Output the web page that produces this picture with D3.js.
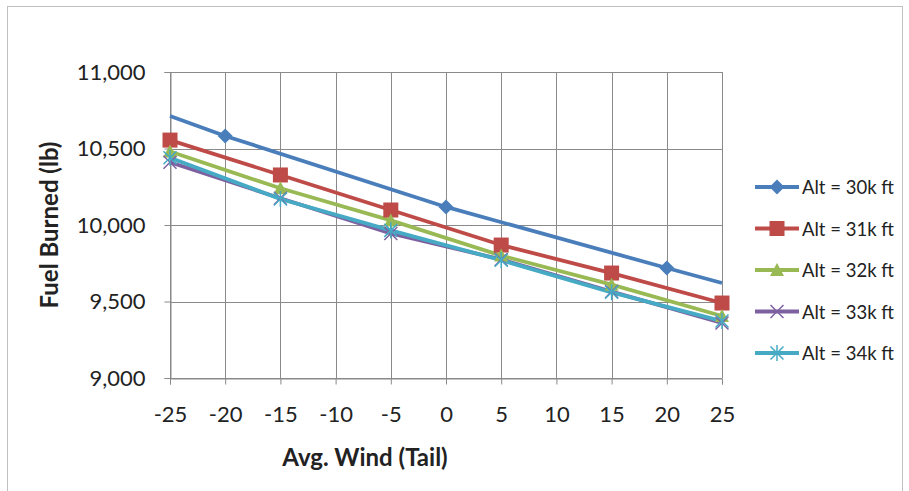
<!DOCTYPE html>
<html>
<head>
<meta charset="utf-8">
<script src="https://cdn.jsdelivr.net/npm/d3@7"></script>
<style>
  html, body { margin: 0; padding: 0; background: #fff; }
  svg { display: block; }
  text { font-family: Lato, "Open Sans", sans-serif; fill: #222; }
</style>
</head>
<body>
<script>
// Wind values on the x axis and fuel burned per altitude
const windTicks = [-25, -20, -15, -10, -5, 0, 5, 10, 15, 20, 25];
const fuelTicks = [9000, 9500, 10000, 10500, 11000];

const alt30Wind = [-25, -20, 0, 20, 25];
const alt30Fuel = [10712, 10582, 10118, 9719, 9621];
const alt30MarkerWind = [-20, 0, 20];

const lowerWind = [-25, -15, -5, 5, 15, 25];
const alt31Fuel = [10555, 10327, 10098, 9869, 9686, 9490];
const alt32Fuel = [10480, 10240, 10030, 9800, 9610, 9405];
const alt33Fuel = [10410, 10175, 9945, 9775, 9565, 9360];
const alt34Fuel = [10440, 10170, 9965, 9770, 9560, 9372];

const seriesNames = ["Alt = 30k ft", "Alt = 31k ft", "Alt = 32k ft", "Alt = 33k ft", "Alt = 34k ft"];
const seriesColors = ["#4a7ebb", "#be4b48", "#98b954", "#7d60a0", "#46aac5"];
const seriesSymbols = ["diamond", "square", "triangle", "x", "asterisk"];

const series = [
  { wind: alt30Wind, fuel: alt30Fuel, markers: alt30MarkerWind },
  { wind: lowerWind, fuel: alt31Fuel, markers: lowerWind },
  { wind: lowerWind, fuel: alt32Fuel, markers: lowerWind },
  { wind: lowerWind, fuel: alt33Fuel, markers: lowerWind },
  { wind: lowerWind, fuel: alt34Fuel, markers: lowerWind }
].map((s, i) => ({
  name: seriesNames[i], color: seriesColors[i], symbol: seriesSymbols[i],
  points: s.wind.map((w, j) => ({ w, f: s.fuel[j] })),
  markerPoints: s.markers.map(w => ({ w, f: s.fuel[s.wind.indexOf(w)] }))
}));

const W = 909, H = 491;
const plot = { left: 170, right: 722, top: 72, bottom: 378 };

const svg = d3.select("body").append("svg").attr("width", W).attr("height", H);

// chart frame
svg.append("rect").attr("x", 7.5).attr("y", 6.5).attr("width", 895).attr("height", 490)
  .attr("fill", "#fff").attr("stroke", "#c0c0c0").attr("stroke-width", 1);

const x = d3.scaleLinear().domain([-25, 25]).range([plot.left, plot.right]);
const y = d3.scaleLinear().domain([9000, 11000]).range([plot.bottom, plot.top]);

const gridColor = "#8a8a8a";

// gridlines
svg.append("g").selectAll("line").data(fuelTicks).join("line")
  .attr("x1", plot.left).attr("x2", plot.right)
  .attr("y1", d => Math.round(y(d)) + 0.5).attr("y2", d => Math.round(y(d)) + 0.5)
  .attr("stroke", gridColor).attr("stroke-width", 1);
svg.append("g").selectAll("line").data(windTicks).join("line")
  .attr("y1", plot.top).attr("y2", plot.bottom)
  .attr("x1", d => Math.round(x(d)) + 0.5).attr("x2", d => Math.round(x(d)) + 0.5)
  .attr("stroke", gridColor).attr("stroke-width", 1);

// x axis
const xAxis = svg.append("g").attr("transform", `translate(0,${Math.round(y(9000)) + 0.5})`)
  .call(d3.axisBottom(x).tickValues(windTicks).tickSize(6).tickPadding(22).tickFormat(d => d));
xAxis.select(".domain").attr("stroke", gridColor);
xAxis.selectAll(".tick line").attr("stroke", gridColor);
xAxis.selectAll(".tick text").attr("font-size", 22).attr("fill", "#222")
  .attr("font-family", "Lato, 'Open Sans', sans-serif");

// y axis
const yAxis = svg.append("g").attr("transform", `translate(${Math.round(x(-25)) + 0.5},0)`)
  .call(d3.axisLeft(y).tickValues(fuelTicks).tickSize(6).tickPadding(19).tickFormat(d3.format(",")));
yAxis.select(".domain").attr("stroke", gridColor);
yAxis.selectAll(".tick line").attr("stroke", gridColor);
yAxis.selectAll(".tick text").attr("font-size", 22).attr("fill", "#222")
  .attr("font-family", "Lato, 'Open Sans', sans-serif");

// axis titles
svg.append("text").attr("x", 365).attr("y", 466).attr("text-anchor", "middle")
  .attr("font-size", 24).attr("font-weight", "bold").text("Avg. Wind (Tail)");
svg.append("text").attr("transform", "translate(48,225) rotate(-90)")
  .attr("text-anchor", "middle").attr("dominant-baseline", "central")
  .attr("font-size", 24).attr("font-weight", "bold").text("Fuel Burned (lb)");

// marker shapes
function marker(sel, symbol, color) {
  if (symbol === "diamond") {
    sel.append("path").attr("d", "M0,-7.5L7.5,0L0,7.5L-7.5,0Z").attr("fill", color);
  } else if (symbol === "square") {
    sel.append("rect").attr("x", -7.5).attr("y", -7.5).attr("width", 15).attr("height", 15).attr("fill", color);
  } else if (symbol === "triangle") {
    sel.append("path").attr("d", "M0,-7L7,6L-7,6Z").attr("fill", color);
  } else if (symbol === "x") {
    sel.append("path").attr("d", "M-6.5,-6.5L6.5,6.5M-6.5,6.5L6.5,-6.5").attr("stroke", color).attr("stroke-width", 1.5).attr("fill", "none");
  } else if (symbol === "asterisk") {
    sel.append("path").attr("d", "M-6.5,-6.5L6.5,6.5M-6.5,6.5L6.5,-6.5M0,-8L0,8").attr("stroke", color).attr("stroke-width", 1.5).attr("fill", "none");
  }
}

const line = d3.line().x(d => x(d.w)).y(d => y(d.f));

series.forEach(s => {
  svg.append("path").datum(s.points).attr("d", line)
    .attr("fill", "none").attr("stroke", s.color).attr("stroke-width", 3.8)
    .attr("stroke-linejoin", "round").attr("stroke-linecap", "butt");
});
series.forEach(s => {
  svg.append("g").selectAll("g").data(s.markerPoints).join("g")
    .attr("transform", d => `translate(${x(d.w)},${y(d.f)})`)
    .each(function () { marker(d3.select(this), s.symbol, s.color); });
});

// legend
const legend = svg.append("g");
series.forEach((s, i) => {
  const cy = 187 + i * 41.5;
  const g = legend.append("g").attr("transform", `translate(0,${cy})`);
  g.append("line").attr("x1", 755).attr("x2", 799).attr("y1", 0).attr("y2", 0)
    .attr("stroke", s.color).attr("stroke-width", 3.8);
  const m = g.append("g").attr("transform", "translate(777,0)");
  marker(m, s.symbol, s.color);
  g.append("text").attr("x", 802).attr("y", 0).attr("dominant-baseline", "central")
    .attr("font-size", 18.5).text(s.name);
});
</script>
</body>
</html>
